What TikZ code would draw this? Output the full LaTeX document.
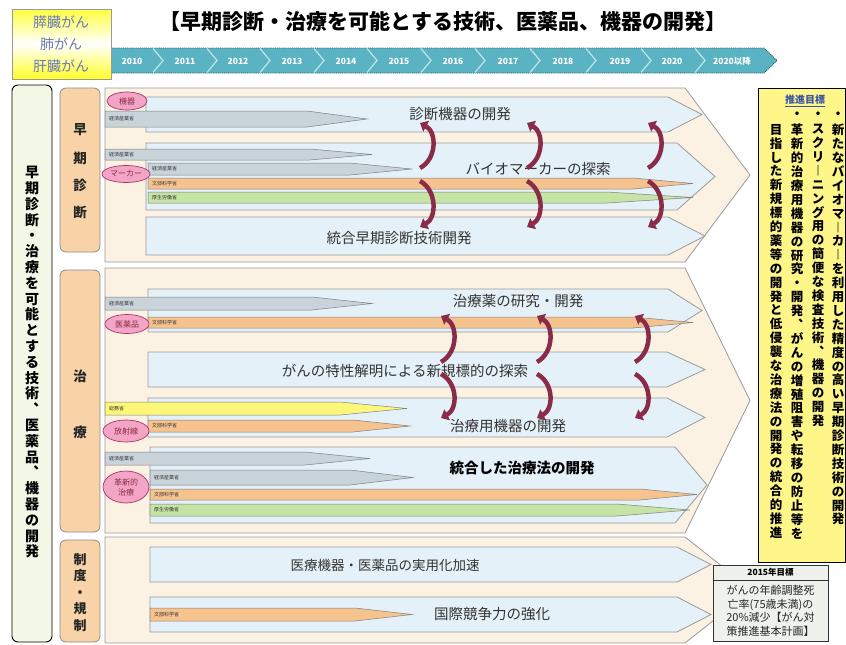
\documentclass[tikz,border=0pt]{standalone}
\usepackage{fontspec}
\setmainfont{Noto Sans CJK JP}
\usetikzlibrary{shapes.geometric,arrows.meta}
\definecolor{panelfill}{HTML}{FBF2E3}
\definecolor{panelline}{HTML}{9A9A9A}
\definecolor{arrowfill}{HTML}{E4F1F8}
\definecolor{grayfill}{HTML}{C9D3DA}
\definecolor{orangefill}{HTML}{F6C38E}
\definecolor{greenfill}{HTML}{C6E4A6}
\definecolor{yellowfill}{HTML}{FCF679}
\definecolor{pinkfill}{HTML}{F3A5C5}
\definecolor{pinkline}{HTML}{B0306A}
\definecolor{peach}{HTML}{F8D3A8}
\definecolor{leftfill}{HTML}{F3F8E6}
\definecolor{tlteal}{HTML}{5AB3C3}
\definecolor{arrowred}{HTML}{8A2C48}
\definecolor{goalyellow}{HTML}{FFF68A}
\definecolor{goalblue}{HTML}{3A55A5}
\definecolor{cancerblue}{HTML}{6878B8}
\definecolor{boxgray}{HTML}{EEF1EC}
\ExplSyntaxOn
\NewDocumentCommand\vstack{m}{
  \seq_clear:N \l_tmpa_seq
  \tl_map_inline:nn {#1} { \seq_put_right:Nn \l_tmpa_seq {##1} }
  \seq_use:Nn \l_tmpa_seq { \\ }
}
\ExplSyntaxOff
\newcommand\pent[6]{\filldraw[#6] (#1,#4) -- (#2,#4) -- (#3,{(#4+#5)/2}) -- (#2,#5) -- (#1,#5) -- cycle;}
\newcommand\mbar[8]{\pent{#1}{#2}{#3}{#4}{#5}{#6}\node[minlabel] (#7) at ({#1+3},{(#4+#5)/2}) {#8};}
\newcommand\carr[3]{\draw[cva] (#1,#2) .. controls ({#1+17},{#2+(#3-#2)*0.2}) and ({#1+17},{#2+(#3-#2)*0.8}) .. (#1,#3);}
\tikzset{
  panel/.style={fill=panelfill, draw=panelline, line width=0.8},
  rowarrow/.style={fill=arrowfill, draw=panelline, line width=0.8},
  gbar/.style={fill=grayfill, draw=black!50, line width=0.5},
  obar/.style={fill=orangefill, draw=black!50, line width=0.5},
  grbar/.style={fill=greenfill, draw=black!50, line width=0.5},
  ybar/.style={fill=yellowfill, draw=black!50, line width=0.5},
  minlabel/.style={font=\fontsize{5}{6}\selectfont, text=black!80, anchor=west, inner sep=1pt},
  tag/.style={ellipse, fill=pinkfill, draw=pinkline, line width=0.7, inner sep=0pt, font=\fontsize{8}{9}\selectfont, text=arrowred, align=center},
  rowtext/.style={font=\fontsize{14.5}{16}\selectfont, text=black!80},
  cva/.style={draw=arrowred, line width=4.5pt, -{Triangle[length=7pt,width=12pt]}},
  seclabel/.style={fill=peach, draw=black!45, rounded corners=6, line width=0.8},
  secchar/.style={font=\bfseries\fontsize{13.5}{14}\selectfont, text=black!85},
  year/.style={font=\bfseries\fontsize{8.5}{9}\selectfont, text=white},
  vcol/.style={anchor=north, align=center, inner sep=0pt, font=\bfseries\fontsize{12.5}{13.9}\selectfont}
}
\begin{document}
\begin{tikzpicture}[x=1pt,y=-1pt]
\useasboundingbox (0,0) rectangle (846,645);
\fill[white] (0,0) rectangle (846,645);

% title
\node[font=\bfseries\fontsize{21}{23}\selectfont] (title) at (443,21) {【早期診断・治療を可能とする技術、医薬品、機器の開発】};

% timeline
\filldraw[fill=tlteal, draw=tlteal!45!black, densely dotted, line width=0.9] (106,48) -- (764,48) -- (777,60.5) -- (764,73) -- (106,73) -- cycle;
\foreach \b in {158,212,265,319,372,426,480,535,591,646,700}
  \draw[tlteal!35!white, line width=1.2] ({\b-5},48.5) -- ({\b+5},60.5) -- ({\b-5},72.5);
\foreach \x/\t/\n in {132/2010/a,185/2011/b,238/2012/c,292/2013/d,346/2014/e,399/2015/f,453/2016/g,508/2017/h,563/2018/i,620/2019/j,672/2020/k,732/2020以降/l}
  \node[year] (yr\n) at (\x,61) {\t};

% cancer types box
\shade[top color=yellow!75, bottom color=yellow!85, middle color=white] (12,9) rectangle (111,79);
\draw[black!40, line width=0.8] (12,9) rectangle (111,79);
\node[font=\fontsize{14}{15}\selectfont, text=cancerblue] (c1) at (61,22) {膵臓がん};
\node[font=\fontsize{14}{15}\selectfont, text=cancerblue] (c2) at (61,44) {肺がん};
\node[font=\fontsize{14}{15}\selectfont, text=cancerblue] (c3) at (61,66) {肝臓がん};

% left big box
\filldraw[fill=leftfill, draw=black, line width=0.9, rounded corners=6] (12,85) rectangle (52,642);
\node[anchor=north, align=center, inner sep=0pt, font=\bfseries\fontsize{14}{15.8}\selectfont] (lefttext) at (32,166) {\vstack{早期診断・治療を可能とする技術︑医薬品︑機器の開発}};

% section labels
\filldraw[seclabel] (60,88) rectangle (100,252);
\node[secchar] (s1a) at (80,130) {早};
\node[secchar] (s1b) at (80,158) {期};
\node[secchar] (s1c) at (80,185) {診};
\node[secchar] (s1d) at (80,212) {断};
\filldraw[seclabel] (60,270) rectangle (100,532);
\node[secchar] (s2a) at (80,376) {治};
\node[secchar] (s2b) at (80,432) {療};
\filldraw[seclabel] (60,540) rectangle (100,642);
\node[anchor=north, align=center, inner sep=0pt, font=\bfseries\fontsize{13}{16.5}\selectfont, text=black!85] (s3) at (80,553) {制\\度\\・\\規\\制};

% ===== early diagnosis =====
\pent{105}{685}{750}{88}{262}{panel}
\pent{146}{668}{702}{97}{132}{rowarrow}
\mbar{105}{307}{367}{111}{127}{gbar}{m1}{経済産業省}
\node[tag, minimum width=40, minimum height=18] (t1) at (127,101) {機器};
\node[rowtext] (r1) at (460,114) {診断機器の開発};

\pent{146}{677}{715}{143}{210}{rowarrow}
\mbar{105}{310}{372}{149}{160}{gbar}{m2}{経済産業省}
\mbar{148}{350}{412}{163}{175}{gbar}{m3}{経済産業省}
\mbar{148}{633}{693}{178}{189}{obar}{m4}{文部科学省}
\mbar{148}{607}{693}{192}{203}{grbar}{m5}{厚生労働省}
\node[tag, minimum width=48, minimum height=17] (t2) at (126,174) {マーカー};
\node[rowtext] (r2) at (538,169) {バイオマーカーの探索};

\pent{146}{668}{705}{217}{255}{rowarrow}
\node[rowtext] (r3) at (399,238) {統合早期診断技術開発};

\foreach \x in {420,527,648}{
  \carr{\x}{168}{123}
  \carr{\x}{181}{227}
}

% ===== treatment =====
\pent{105}{685}{750}{268}{533}{panel}
\pent{148}{668}{702}{289}{332}{rowarrow}
\mbar{105}{312}{372}{297}{310}{gbar}{m6}{経済産業省}
\mbar{148}{633}{693}{317}{328}{obar}{m7}{文部科学省}
\node[tag, minimum width=44, minimum height=19] (t3) at (127,324) {医薬品};
\node[rowtext] (r4) at (518,301) {治療薬の研究・開発};

\pent{148}{667}{705}{352}{387}{rowarrow}
\node[rowtext] (r5) at (405,371) {がんの特性解明による新規標的の探索};

\pent{148}{667}{705}{398}{437}{rowarrow}
\mbar{105}{340}{407}{402}{415}{ybar}{m8}{総務省}
\mbar{148}{353}{410}{420}{432}{obar}{m9}{文部科学省}
\node[tag, minimum width=46, minimum height=22] (t4) at (126,431) {放射線};
\node[rowtext] (r6) at (508,426) {治療用機器の開発};

\pent{150}{675}{707}{447}{523}{rowarrow}
\mbar{105}{305}{370}{452}{465}{gbar}{m10}{経済産業省}
\mbar{150}{350}{413}{470}{485}{gbar}{m11}{経済産業省}
\mbar{150}{640}{697}{489}{500}{obar}{m12}{文部科学省}
\mbar{150}{617}{690}{504}{516}{grbar}{m13}{厚生労働省}
\node[tag, minimum width=46, minimum height=32, font=\fontsize{8}{10}\selectfont] (t5) at (126,487) {革新的\\治療};
\node[font=\bfseries\fontsize{14.5}{16}\selectfont] (r7) at (522,468) {統合した治療法の開発};

\foreach \x in {441,537,635}{
  \carr{\x}{362}{316}
  \carr{\x}{374}{418}
}

% ===== regulation =====
\pent{105}{685}{752}{537}{643}{panel}
\pent{150}{677}{711}{547}{582}{rowarrow}
\node[font=\fontsize{13.5}{15}\selectfont, text=black!80] (r8) at (385,565) {医療機器・医薬品の実用化加速};
\pent{150}{677}{711}{597}{632}{rowarrow}
\mbar{150}{355}{412}{608}{621}{obar}{m14}{文部科学省}
\node[rowtext] (r9) at (492,614) {国際競争力の強化};

% ===== goals box =====
\filldraw[fill=goalyellow, draw=black, line width=0.9] (758,88) rectangle (845,562);
\node[font=\bfseries\fontsize{10}{11}\selectfont, text=goalblue] (gt) at (805,101) {\underline{推進目標}};
\node[vcol] (gb1) at (838,112) {・};
\node[vcol] (gb2) at (818,112) {・};
\node[vcol] (gb3) at (797,112) {・};
\node[vcol] (g1) at (838,124) {\vstack{新たなバイオマ︱カ︱を利用した精度の高い早期診断技術の開発}};
\node[vcol] (g2) at (818,124) {\vstack{スクリ︱ニング用の簡便な検査技術︑機器の開発}};
\node[vcol] (g3) at (797,124) {\vstack{革新的治療用機器の研究・開発︑がんの増殖阻害や転移の防止等を}};
\node[vcol] (g4) at (776,124) {\vstack{目指した新規標的薬等の開発と低侵襲な治療法の開発の統合的推進}};

% ===== 2015 target box =====
\filldraw[fill=boxgray, draw=black!80, line width=0.9] (713,565) rectangle (828,641);
\draw[black!80, line width=0.8] (713,580) -- (828,580);
\node[font=\bfseries\fontsize{8.5}{9}\selectfont] (bt) at (770.5,572.5) {2015年目標};
\node[anchor=north, align=center, inner sep=0pt, font=\fontsize{11}{13.5}\selectfont, text=black!85] (bx) at (770.5,585) {がんの年齢調整死\\亡率(75歳未満)の\\20\%減少【がん対\\策推進基本計画】};
\end{tikzpicture}
\end{document}
